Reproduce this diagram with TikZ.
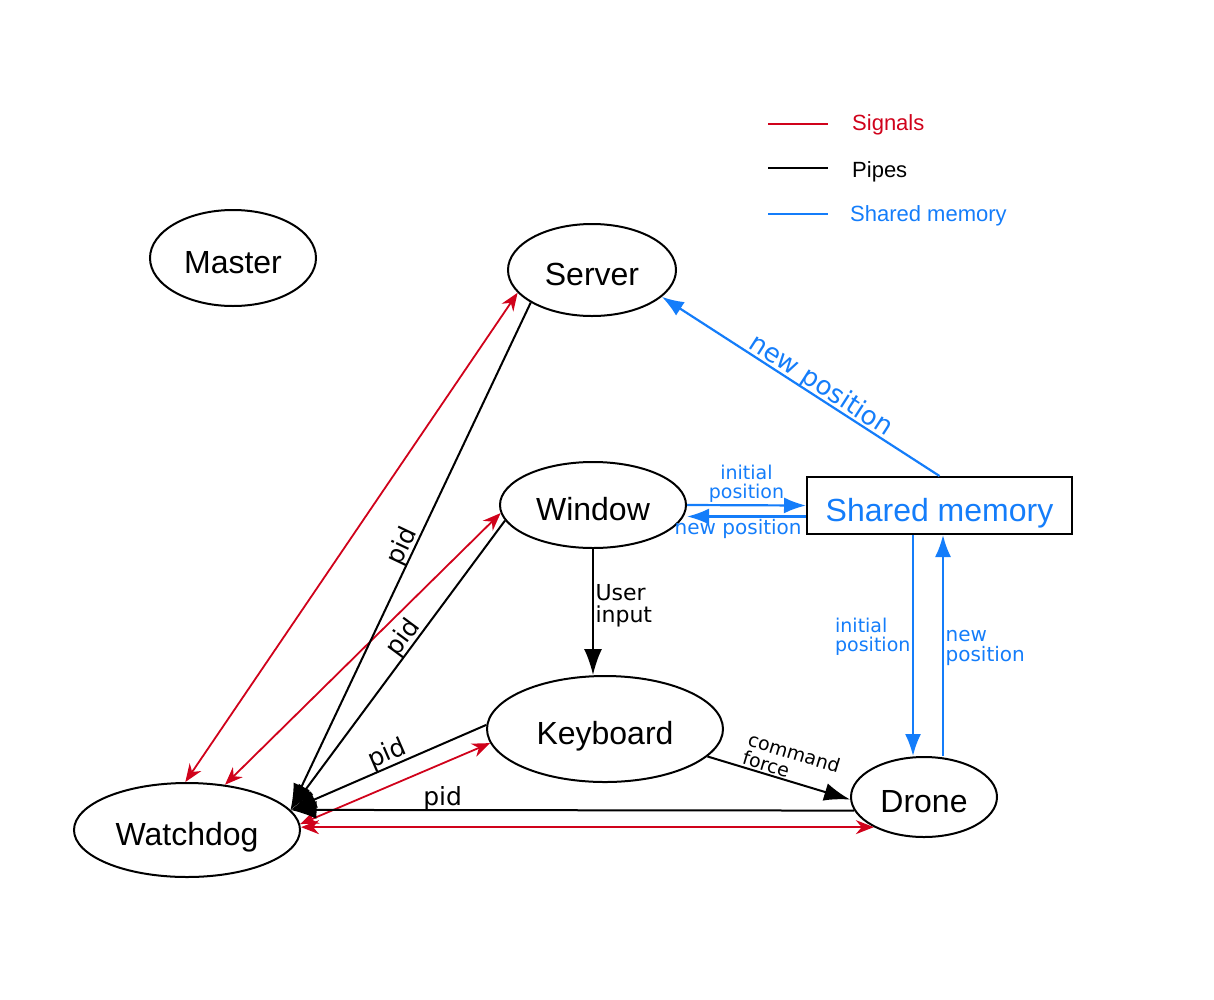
\documentclass[tikz,border=0pt]{standalone}
\usepackage{fontspec}
\setmainfont{Liberation Sans}
\newfontfamily\handfont{DejaVu Sans}
\usetikzlibrary{arrows.meta,shapes.geometric}
\definecolor{sigred}{RGB}{208,2,27}
\definecolor{shmblue}{RGB}{20,125,250}
\begin{document}
\begin{tikzpicture}[x=1pt,y=-1pt,
  proc/.style={ellipse,draw,line width=2pt,inner sep=0pt,text height=31pt,text depth=0pt,font=\fontsize{32}{36}\selectfont},
  sig/.style={color=sigred,line width=1.8pt,{Stealth[length=18pt,width=14pt]}-{Stealth[length=18pt,width=14pt]}},
  pipe/.style={color=black,line width=2pt,-{Latex[length=26pt,width=18pt]}},
  shm/.style={color=shmblue,line width=2.2pt,-{Latex[length=22pt,width=16pt]}},
  hand/.style={font=\handfont\fontsize{#1}{#1}\selectfont,inner sep=1.5pt},
  hand/.default=20,
  legtext/.style={anchor=west,inner sep=0pt,font=\fontsize{22}{24}\selectfont}
]
\useasboundingbox (0,0) rectangle (1214,999);

% legend
\draw[sigred,line width=1.8pt] (768,124) -- (828,124);
\node[legtext,text=sigred] (lsig) at (852,125) {Signals};
\draw[black,line width=1.8pt] (768,168) -- (828,168);
\node[legtext] (lpipe) at (852,172) {Pipes};
\draw[shmblue,line width=1.8pt] (768,214) -- (828,214);
\node[legtext,text=shmblue] (lshm) at (850,216) {Shared memory};

% nodes
\node[proc,minimum width=166pt,minimum height=96pt] (master) at (233,258) {Master};
\node[proc,minimum width=168pt,minimum height=92pt] (server) at (592,270) {Server};
\node[proc,minimum width=186pt,minimum height=86pt] (window) at (593,505) {Window};
\node[proc,minimum width=236pt,minimum height=106pt] (keyboard) at (605,729) {Keyboard};
\node[proc,minimum width=146pt,minimum height=80pt] (drone) at (924,797) {Drone};
\node[proc,minimum width=226pt,minimum height=94pt] (watchdog) at (187,830) {Watchdog};
\node[draw,line width=2pt,minimum width=265pt,minimum height=57pt,inner sep=0pt,
      text height=31pt,text depth=0pt,
      text=shmblue,font=\fontsize{32}{36}\selectfont] (shm) at (939.5,505.5) {Shared memory};

\coordinate (wdin) at (watchdog.11);

% signals
\draw[sig] (watchdog.92) -- (server.197);
\draw[sig] (watchdog.50) -- (window.185);
\draw[sig] (watchdog.3) -- (keyboard.187);
\draw[sig] (watchdog.east |- drone.211) -- (drone.211);

% pipes
\draw[pipe] (server.208) -- node[hand=25,sloped,above=-3pt,pos=0.49]{pid} (wdin);
\draw[pipe] (window.190) -- node[hand=25,sloped,above=-3pt,pos=0.43]{pid} (wdin);
\draw[pipe] (keyboard.178) -- node[hand=25,sloped,above=-2pt,pos=0.48]{pid} (wdin);
\draw[pipe] (drone.191) -- node[hand=25,above=-3pt,pos=0.73]{pid} (wdin);
\draw[pipe] (window.south) -- node[hand=22,right,align=left,pos=0.45]{User\\input} (window.south |- keyboard.north);
\draw[pipe] (keyboard.345) -- node[hand=19,sloped,above,align=left,pos=0.55]{command\\force} (drone.182);

% shared memory
\draw[shm] (shm.north) -- node[hand=26,sloped,above=-4pt,pos=0.45]{new position} (server.339);
\draw[shm] (window.east) -- node[hand=19,above,align=center,pos=0.5]{initial\\position} (shm.west);
\draw[shm] ([yshift=-11pt]shm.west) -- node[hand=20,below,pos=0.57]{new position} ([yshift=-11pt]shm.west -| window.east);
\draw[shm] ([xshift=-26.5pt]shm.south) -- node[hand=19,left,align=left,pos=0.46]{initial\\position} ([xshift=-26.5pt]shm.south |- drone.north);
\draw[shm] ([xshift=3.5pt]shm.south |- drone.north) -- node[hand=20,right,align=left,pos=0.49]{new\\position} ([xshift=3.5pt]shm.south);
\end{tikzpicture}
\end{document}
